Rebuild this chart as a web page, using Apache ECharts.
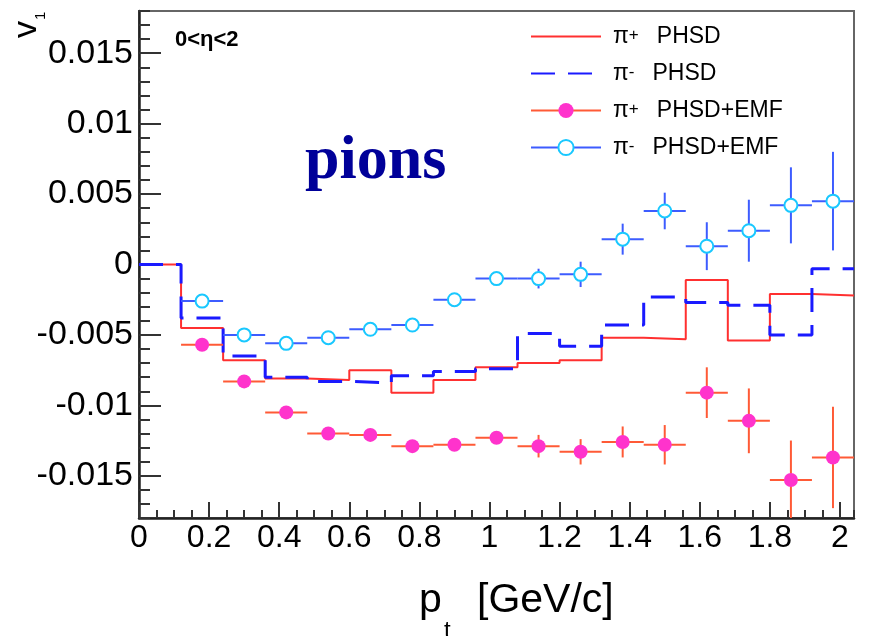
<!DOCTYPE html>
<html>
<head>
<meta charset="utf-8">
<script src="https://cdn.jsdelivr.net/npm/echarts@6/dist/echarts.min.js"></script>
<style>
  html, body { margin: 0; padding: 0; background: #fff; }
  #chart { width: 872px; height: 636px; }
</style>
</head>
<body>
<div id="chart"></div>
<script>
// pt binning (GeV/c)
const binEdges = [0, 0.12, 0.24, 0.36, 0.48, 0.6, 0.72, 0.84, 0.96, 1.08, 1.2, 1.32, 1.44, 1.56, 1.68, 1.8, 1.92, 2.04];
const binCenters = [0.18, 0.3, 0.42, 0.54, 0.66, 0.78, 0.9, 1.02, 1.14, 1.26, 1.38, 1.5, 1.62, 1.74, 1.86, 1.98];
const halfBin = 0.06;

// PHSD histograms (first bin 0-0.12 included)
const pipPHSD = [0, -0.0045, -0.0068, -0.0081, -0.0082, -0.0075, -0.0091, -0.0082, -0.0073, -0.0070, -0.0068, -0.0052, -0.0053, -0.0011, -0.0054, -0.0021, -0.0022];
const pimPHSD = [0, -0.0038, -0.0065, -0.0080, -0.0083, -0.0084, -0.0079, -0.0076, -0.0074, -0.0049, -0.0058, -0.0043, -0.0023, -0.0027, -0.0029, -0.0050, -0.0003];

// PHSD+EMF points with errors
const pipEMF = [-0.0057, -0.0083, -0.0105, -0.0120, -0.0121, -0.0129, -0.0128, -0.0123, -0.0129, -0.0133, -0.0126, -0.0128, -0.0091, -0.0111, -0.0153, -0.0137];
const pipErr = [0.0003, 0.0003, 0.0003, 0.0003, 0.0003, 0.0003, 0.0003, 0.0004, 0.0008, 0.0009, 0.0011, 0.0014, 0.0018, 0.0023, 0.0028, 0.0036];
const pimEMF = [-0.0026, -0.0050, -0.0056, -0.0052, -0.0046, -0.0043, -0.0025, -0.0010, -0.0010, -0.0007, 0.0018, 0.0038, 0.0013, 0.0024, 0.0042, 0.0045];
const pimErr = [0.0003, 0.0003, 0.0003, 0.0003, 0.0003, 0.0003, 0.0003, 0.0004, 0.0007, 0.0009, 0.0011, 0.0013, 0.0017, 0.0022, 0.0027, 0.0035];

const xTicks = [0, 0.2, 0.4, 0.6, 0.8, 1, 1.2, 1.4, 1.6, 1.8, 2];
const yTicks = [-0.015, -0.01, -0.005, 0, 0.005, 0.01, 0.015];
const names = ['π+ PHSD', 'π- PHSD', 'π+ PHSD+EMF', 'π- PHSD+EMF'];

const FONT = '"Liberation Sans", Arial, sans-serif';
const RED = '#ff3030', BLUE = '#1a1aff';
const MAG = '#ff33cc', MAG_ERR = '#ff5a36';
const CYAN = '#19c8ff', CYAN_ERR = '#3d5cff';

const chart = echarts.init(document.getElementById('chart'), null, { renderer: 'canvas' });

function histData(vals) {
  return binEdges.map((e, i) => [e, vals[Math.min(i, vals.length - 1)]]);
}

function errSeries(name, vals, errs, color) {
  return {
    name: name,
    type: 'custom',
    clip: true,
    z: 3,
    data: binCenters.map((x, i) => [x, vals[i], errs[i]]),
    encode: { x: 0, y: 1 },
    renderItem: (params, api) => {
      const x = api.value(0), y = api.value(1), e = api.value(2);
      const l = api.coord([x - halfBin, y]), r = api.coord([x + halfBin, y]);
      const t = api.coord([x, y + e]), b = api.coord([x, y - e]);
      return {
        type: 'group',
        children: [
          { type: 'line', shape: { x1: l[0], y1: l[1], x2: r[0], y2: r[1] }, style: { stroke: color, lineWidth: 2 } },
          { type: 'line', shape: { x1: t[0], y1: t[1], x2: b[0], y2: b[1] }, style: { stroke: color, lineWidth: 2 } }
        ]
      };
    }
  };
}

const tickStyle = { color: '#333', width: 2 };

const option = {
  backgroundColor: '#fff',
  animation: false,
  grid: {
    left: 139, right: 18, top: 11, bottom: 118,
    containLabel: false,
    outerBoundsMode: 'none',
    show: true,
    borderColor: '#666',
    borderWidth: 2
  },
  legend: {
    orient: 'vertical',
    left: 530,
    top: 25,
    padding: 0,
    itemWidth: 70,
    itemHeight: 19,
    itemGap: 14,
    selectedMode: false,
    data: [
      { name: names[0], itemStyle: { opacity: 0 } },
      { name: names[1], itemStyle: { opacity: 0 } },
      { name: names[2], lineStyle: { color: MAG_ERR, width: 2, opacity: 1 } },
      { name: names[3], lineStyle: { color: CYAN_ERR, width: 2, opacity: 1 },
        itemStyle: { color: '#fff', borderColor: CYAN, borderWidth: 2 } }
    ],
    formatter: (name) => name.replace(/^π([+-]) (.*)$/, '{pi|π}{sup|$1}{txt|$2}'),
    textStyle: {
      color: '#000',
      fontFamily: FONT,
      rich: {
        pi: { fontSize: 23, fontFamily: FONT, color: '#000', padding: [0, 0, 0, 7], lineHeight: 19 },
        sup: { fontSize: 17, fontFamily: FONT, color: '#000', verticalAlign: 'top', lineHeight: 9 },
        txt: { fontSize: 23, fontFamily: FONT, color: '#000', padding: [0, 0, 0, 18], lineHeight: 19 }
      }
    }
  },
  xAxis: [
    {
      type: 'value', min: 0, max: 2.04, position: 'bottom',
      axisLine: { onZero: false, lineStyle: { color: '#222', width: 2.5 } },
      axisTick: { inside: true, length: 16, lineStyle: tickStyle, customValues: xTicks },
      axisLabel: { customValues: xTicks, margin: 4, fontSize: 32, fontFamily: FONT, color: '#000' },
      splitLine: { show: false }
    },
    {
      type: 'value', min: 0, max: 2.04, interval: 0.05, position: 'bottom',
      axisLine: { show: false, onZero: false },
      axisTick: { inside: true, length: 8, lineStyle: tickStyle },
      axisLabel: { show: false },
      splitLine: { show: false }
    }
  ],
  yAxis: [
    {
      type: 'value', min: -0.018, max: 0.018, position: 'left',
      axisLine: { onZero: false, lineStyle: { color: '#222', width: 2.5 } },
      axisTick: { inside: true, length: 22, lineStyle: tickStyle, customValues: yTicks },
      axisLabel: { customValues: yTicks, margin: 6, fontSize: 34, fontFamily: FONT, color: '#000' },
      splitLine: { show: false }
    },
    {
      type: 'value', min: -0.018, max: 0.018, interval: 0.001, position: 'left',
      axisLine: { show: false, onZero: false },
      axisTick: { inside: true, length: 11, lineStyle: tickStyle },
      axisLabel: { show: false },
      splitLine: { show: false }
    }
  ],
  series: [
    {
      name: names[0], type: 'line', step: 'end', symbol: 'none', z: 2,
      data: histData(pipPHSD),
      lineStyle: { color: RED, width: 2 }, itemStyle: { color: RED }
    },
    {
      name: names[1], type: 'line', step: 'end', symbol: 'none', z: 2,
      data: histData(pimPHSD),
      lineStyle: { color: BLUE, width: 3, type: [24, 13] }, itemStyle: { color: BLUE }
    },
    errSeries('pipErr', pipEMF, pipErr, MAG_ERR),
    errSeries('pimErr', pimEMF, pimErr, CYAN_ERR),
    {
      name: names[2], type: 'line', symbol: 'circle', symbolSize: 14, z: 4,
      data: binCenters.map((x, i) => [x, pipEMF[i]]),
      lineStyle: { width: 0, opacity: 0 },
      itemStyle: { color: MAG }
    },
    {
      name: names[3], type: 'line', symbol: 'circle', symbolSize: 13, z: 4,
      data: binCenters.map((x, i) => [x, pimEMF[i]]),
      lineStyle: { width: 0, opacity: 0 },
      itemStyle: { color: '#fff', borderColor: CYAN, borderWidth: 2 }
    }
  ],
  graphic: [
    { type: 'text', x: 27, y: 38, rotation: Math.PI / 2,
      style: { text: 'v', font: '34px ' + FONT, fill: '#000', align: 'left', verticalAlign: 'middle', textAlign: 'left', textVerticalAlign: 'middle' } },
    { type: 'text', x: 41, y: 20, rotation: Math.PI / 2,
      style: { text: '1', font: '15px ' + FONT, fill: '#000', align: 'left', verticalAlign: 'middle', textAlign: 'left', textVerticalAlign: 'middle' } },
    { type: 'text', x: 175, y: 40,
      style: { text: '0<η<2', font: 'bold 22px ' + FONT, fill: '#000', align: 'left', verticalAlign: 'middle', textAlign: 'left', textVerticalAlign: 'middle' } },
    { type: 'text', x: 305, y: 162,
      style: { text: 'pions', font: 'bold 62px "Liberation Serif", "Times New Roman", serif', fill: '#000099', align: 'left', verticalAlign: 'middle', textAlign: 'left', textVerticalAlign: 'middle' } },
    { type: 'text', x: 419, y: 601,
      style: { text: 'p', font: '41px ' + FONT, fill: '#000', align: 'left', verticalAlign: 'middle', textAlign: 'left', textVerticalAlign: 'middle' } },
    { type: 'text', x: 444, y: 631,
      style: { text: 't', font: '24px ' + FONT, fill: '#000', align: 'left', verticalAlign: 'middle', textAlign: 'left', textVerticalAlign: 'middle' } },
    { type: 'text', x: 477, y: 601,
      style: { text: '[GeV/c]', font: '41px ' + FONT, fill: '#000', align: 'left', verticalAlign: 'middle', textAlign: 'left', textVerticalAlign: 'middle' } }
  ]
};

chart.setOption(option);
</script>
</body>
</html>
